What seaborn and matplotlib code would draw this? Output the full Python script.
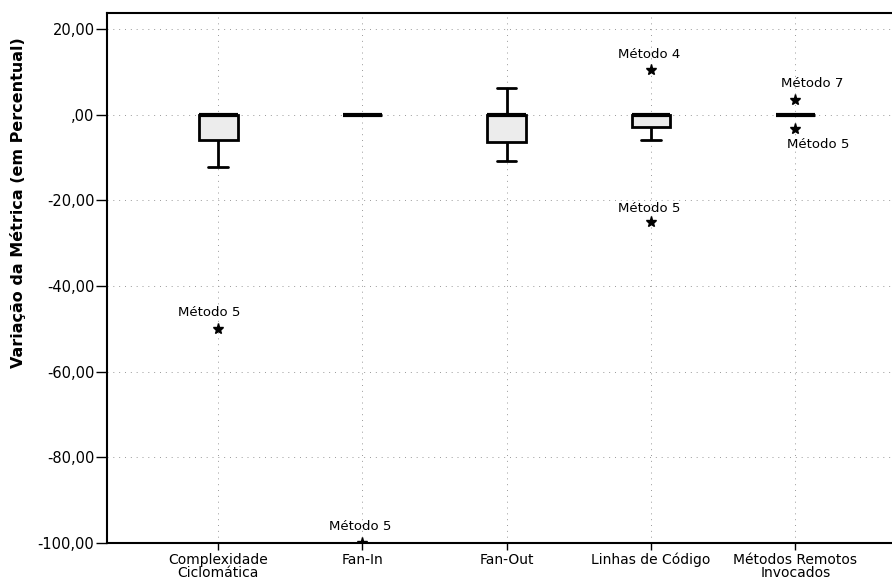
import numpy as np
import pandas as pd
import matplotlib
matplotlib.use("Agg")
import matplotlib.pyplot as plt
import seaborn as sns

# ---- data ----
categories = ["Complexidade\nCiclomática", "Fan-In", "Fan-Out",
              "Linhas de Código", "Métodos Remotos\nInvocados"]
methods = ["Método 1", "Método 2", "Método 3", "Método 4",
           "Método 5", "Método 6", "Método 7", "Método 8"]
complexidade = [0.0, -12.2, 0.0, -3.8, -50.0, 0.0, 0.0, 0.0]
fan_in = [0.0, 0.0, 0.0, 0.0, -100.0, 0.0, 0.0, 0.0]
fan_out = [0.0, -6.0, 6.2, 0.0, -10.8, 0.0, -8.0, 0.0]
linhas = [0.0, -2.0, 0.0, 10.4, -25.1, -6.0, 0.0, 0.0]
remotos = [0.0, 0.0, 0.0, 0.0, -3.3, 0.0, 3.4, 0.0]
series = [complexidade, fan_in, fan_out, linhas, remotos]

yticks = [20, 0, -20, -40, -60, -80, -100]
ytick_labels = ["20,00", ",00", "-20,00", "-40,00", "-60,00", "-80,00", "-100,00"]

# outliers labelled in the reference: (category index, method name, offset px)
labels = [
    (0, "Método 5", (-9, 16)),
    (1, "Método 5", (-2, 16)),
    (3, "Método 4", (-2, 15)),
    (3, "Método 5", (-2, 14)),
    (4, "Método 7", (17, 16)),
    (4, "Método 5", (23, -16)),
]

rows = []
for cat, vals in zip(categories, series):
    for m, v in zip(methods, vals):
        rows.append({"Métrica": cat, "Método": m, "Variação": v})
df = pd.DataFrame(rows)

sns.set_style("white")
plt.rcParams["font.family"] = ["DejaVu Sans"]
plt.rcParams["text.color"] = "black"
plt.rcParams["axes.labelcolor"] = "black"
plt.rcParams["xtick.color"] = "black"
plt.rcParams["ytick.color"] = "black"

fig = plt.figure(figsize=(8.92, 5.81), dpi=100)
ax = fig.add_axes([107 / 892, 1 - 543 / 581, 1 - 107 / 892, (543 - 13) / 581])

sns.boxplot(data=df, x="Métrica", y="Variação", order=categories, ax=ax,
            color="#ececec", saturation=1, linecolor="black", linewidth=2,
            width=0.27, whis=1.5,
            flierprops=dict(marker="*", markerfacecolor="black",
                            markeredgecolor="black", markersize=8),
            medianprops=dict(color="black", linewidth=3))

for ci, m, off in labels:
    v = series[ci][methods.index(m)]
    ax.annotate(m, xy=(ci, v), xytext=off, textcoords="offset pixels",
                ha="center", va="center", fontsize=9.5, color="black")

ax.set_ylim(-100, 23.7)
ax.set_xlim(-0.77, 4.67)
ax.set_yticks(yticks)
ax.set_yticklabels(ytick_labels, fontsize=10.5, color="black")
ax.tick_params(axis="y", direction="out", length=8, width=1, pad=1, left=True,
               colors="black")
ax.tick_params(axis="x", direction="out", length=5, width=1, pad=2, bottom=True,
               labelsize=10, colors="black")
for t in ax.get_xticklabels():
    t.set_linespacing(0.9)

ax.grid(True, axis="both", color="#999999", linestyle=(0, (1, 5)), linewidth=0.7)
ax.set_axisbelow(True)

for s in ["left", "bottom", "top"]:
    ax.spines[s].set_visible(True)
    ax.spines[s].set_color("black")
    ax.spines[s].set_linewidth(1.5)
ax.spines["right"].set_visible(False)

ax.set_xlabel("")
ax.set_ylabel("Variação da Métrica (em Percentual)", fontsize=11.5,
              fontweight="bold", color="black")
ax.yaxis.set_label_coords((26 - 107) / (892 - 107), (543 - 203) / (543 - 13))

fig.savefig("out.png", dpi=100)
